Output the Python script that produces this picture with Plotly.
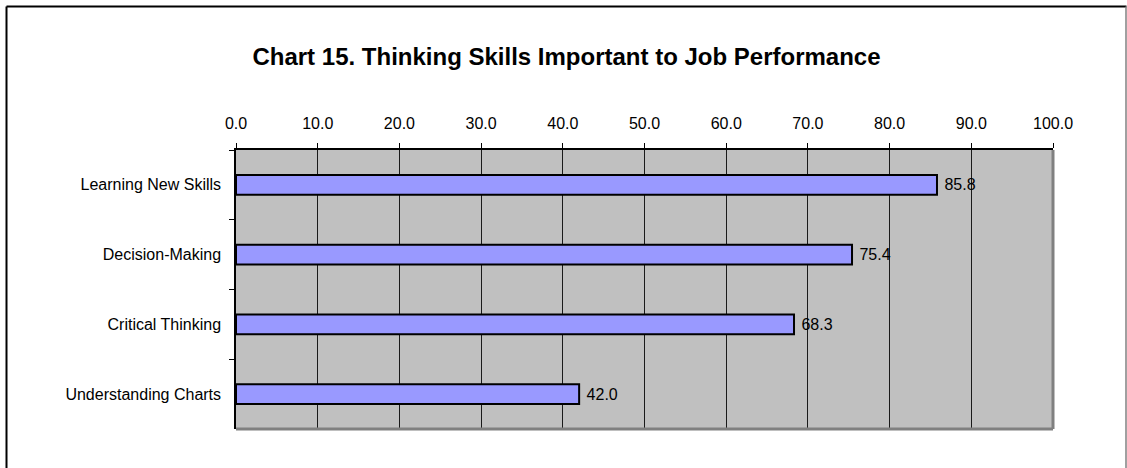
import plotly.graph_objects as go

categories = ["Learning New Skills", "Decision-Making", "Critical Thinking", "Understanding Charts"]
values = [85.8, 75.4, 68.3, 42.0]
title_text = "Chart 15. Thinking Skills Important to Job Performance"

W, H = 1127, 468
L, R, T, B = 236, 74, 150, 39
pw, ph = W - L - R, H - T - B

def px(x):
    return (x - L) / pw

def py(y):
    return (H - B - y) / ph

FONT = "Liberation Sans, Arial, sans-serif"

fig = go.Figure(go.Bar(
    x=values, y=categories, orientation="h",
    marker=dict(color="#9999FF", line=dict(color="black", width=2)),
    width=0.286,
    text=[f"{v:.1f}" for v in values],
    texttemplate=" %{text}",
    textposition="outside",
    textfont=dict(family=FONT, size=16, color="black"),
    cliponaxis=False,
    hoverinfo="skip",
))

shapes = [
    # plot area right/bottom grey border
    dict(type="line", xref="paper", yref="paper", x0=1, x1=1, y0=0, y1=1,
         line=dict(color="#808080", width=3)),
    dict(type="line", xref="paper", yref="paper", x0=0, x1=1, y0=0, y1=0,
         line=dict(color="#808080", width=3)),
    # outer chart border
    dict(type="line", xref="paper", yref="paper", x0=px(6.5), x1=px(6.5), y0=py(6.5), y1=py(480),
         line=dict(color="black", width=2)),
    dict(type="line", xref="paper", yref="paper", x0=px(6.5), x1=px(1126.5), y0=py(6.5), y1=py(6.5),
         line=dict(color="black", width=2)),
    dict(type="line", xref="paper", yref="paper", x0=px(1126), x1=px(1126), y0=py(6.5), y1=py(480),
         line=dict(color="#808080", width=1.5)),
]

fig.update_layout(
    width=W, height=H,
    margin=dict(l=L, r=R, t=T, b=B, pad=0),
    paper_bgcolor="white",
    plot_bgcolor="#C0C0C0",
    font=dict(family=FONT, size=16, color="black"),
    showlegend=False,
    title=dict(text=f"<b>{title_text}</b>", x=(566.5) / W, xanchor="center",
               y=1 - 57 / H, yanchor="middle", xref="container", yref="container",
               font=dict(family=FONT, size=24, color="black")),
    shapes=shapes,
    bargap=0.714,
)

fig.update_xaxes(
    side="top", range=[0, 100], dtick=10, tick0=0, tickformat=".1f",
    showgrid=True, gridcolor="#1a1a1a", gridwidth=1,
    showline=True, linecolor="black", linewidth=1.5,
    ticks="outside", ticklen=5, tickcolor="black", tickwidth=1,
    tickfont=dict(family=FONT, size=16, color="black"),
    zeroline=False, fixedrange=True,
    ticklabelstandoff=8,
)
fig.update_yaxes(
    categoryorder="array", categoryarray=categories, autorange="reversed",
    showgrid=False, showline=True, linecolor="black", linewidth=1.5,
    ticks="outside", ticklen=5, tickcolor="black", tickwidth=1, tickson="boundaries",
    tickfont=dict(family=FONT, size=16, color="black"),
    ticklabelstandoff=10,
    zeroline=False, fixedrange=True,
)

fig.write_html("out.html", config={"displayModeBar": False},
               post_script="document.body.style.margin='0';document.body.style.overflow='hidden';")
